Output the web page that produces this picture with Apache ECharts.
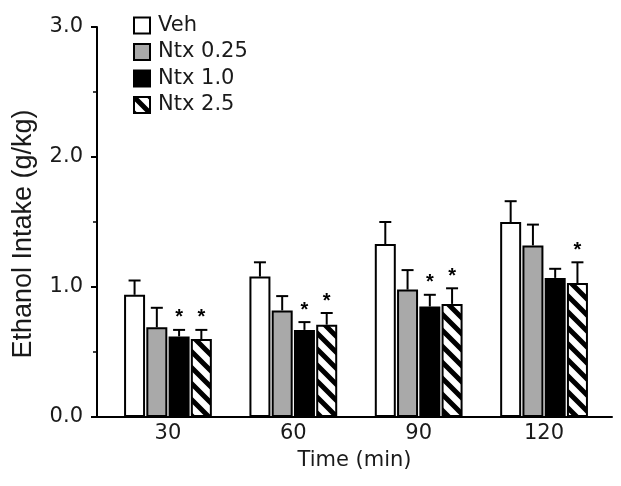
<!DOCTYPE html>
<html>
<head>
<meta charset="utf-8">
<script src="https://cdn.jsdelivr.net/npm/echarts@6/dist/echarts.min.js"></script>
<style>html,body{margin:0;padding:0;background:#fff}#c{width:621px;height:486px}</style>
</head>
<body>
<div id="c"></div>
<script>
// ---- data ----
const categories = ['30', '60', '90', '120'];
const seriesNames = ['Veh', 'Ntx 0.25', 'Ntx 1.0', 'Ntx 2.5'];
const veh      = [0.94, 1.08, 1.33, 1.50];
const vehErr   = [0.11, 0.11, 0.17, 0.16];
const ntx025   = [0.69, 0.82, 0.98, 1.32];
const ntx025Err= [0.15, 0.11, 0.15, 0.16];
const ntx10    = [0.62, 0.67, 0.85, 1.07];
const ntx10Err = [0.05, 0.06, 0.09, 0.07];
const ntx25    = [0.60, 0.71, 0.87, 1.03];
const ntx25Err = [0.07, 0.09, 0.12, 0.16];
const sigVeh   = [0, 0, 0, 0];
const sig025   = [0, 0, 0, 0];
const sig10    = [1, 1, 1, 0];
const sig25    = [1, 1, 1, 1];
const yTicks   = [0, 1, 2, 3];

const values = [veh, ntx025, ntx10, ntx25];
const errs = [vehErr, ntx025Err, ntx10Err, ntx25Err];
const sigs = [sigVeh, sig025, sig10, sig25];

// ---- styling ----
const FONT = 'DejaVu Sans';
const TITLE_FONT = 'Liberation Sans';
const TXT = '#1a1a1a';
const BAR_W = 21;
const BAR_GAP = 0.06;

function hatch() {
  const s = 16;
  const cv = document.createElement('canvas');
  cv.width = s; cv.height = s;
  const g = cv.getContext('2d');
  g.fillStyle = '#fff'; g.fillRect(0, 0, s, s);
  g.strokeStyle = '#000'; g.lineWidth = 5; g.lineCap = 'square';
  g.beginPath();
  g.moveTo(-s, -s); g.lineTo(2 * s, 2 * s);
  g.moveTo(-s, 0); g.lineTo(s, 2 * s);
  g.moveTo(0, -s); g.lineTo(2 * s, s);
  g.stroke();
  return cv;
}

const fills = ['#ffffff', '#a9a9a9', '#000000', { image: hatch(), repeat: 'repeat' }];

const series = [];
values.forEach((arr, i) => {
  series.push({
    name: seriesNames[i],
    type: 'bar',
    barWidth: BAR_W,
    barGap: (BAR_GAP * 100) + '%',
    data: arr.map((v, k) => [k, v]),
    itemStyle: { color: fills[i], borderColor: '#000', borderWidth: 2 },
    emphasis: { disabled: true },
    z: 2
  });
});
values.forEach((arr, i) => {
  const off = (i - 1.5) * BAR_W * (1 + BAR_GAP);
  series.push({
    type: 'custom',
    silent: true,
    z: 5,
    encode: { x: 0, y: 1 },
    data: arr.map((v, k) => [k, v, errs[i][k], sigs[i][k]]),
    renderItem: function (params, api) {
      const x = api.value(0), v = api.value(1), e = api.value(2), s = api.value(3);
      const p0 = api.coord([x, v]);
      const p1 = api.coord([x, v + e]);
      const cx = p0[0] + off;
      const st = { stroke: '#000', lineWidth: 2 };
      const ch = [
        { type: 'line', shape: { x1: cx, y1: p0[1], x2: cx, y2: p1[1] }, style: st },
        { type: 'line', shape: { x1: cx - 6, y1: p1[1], x2: cx + 6, y2: p1[1] }, style: st }
      ];
      if (s) {
        ch.push({ type: 'text', style: { text: '*', x: cx, y: p1[1] - 12, align: 'center', verticalAlign: 'middle',
          font: 'bold 20px "Liberation Sans"', fill: '#000' } });
      }
      return { type: 'group', children: ch };
    }
  });
});

const chart = echarts.init(document.getElementById('c'), null, { renderer: 'canvas' });
chart.setOption({
  animation: false,
  backgroundColor: '#fff',
  textStyle: { fontFamily: FONT },
  grid: { left: 97, right: 9, top: 27, bottom: 69, containLabel: false },
  legend: {
    orient: 'vertical', left: 128, top: 10,
    itemWidth: 16, itemHeight: 16, itemGap: 5.5,
    icon: 'rect',
    data: seriesNames,
    selectedMode: false,
    textStyle: { fontFamily: FONT, fontSize: 21, color: TXT, lineHeight: 21, padding: [0, 0, 0, 3] }
  },
  xAxis: {
    type: 'value',
    min: -0.566, max: 3.542,
    name: 'Time (min)', nameLocation: 'middle', nameGap: 33,
    nameTextStyle: { fontFamily: FONT, fontSize: 21, color: TXT },
    axisLine: { show: true, onZero: false, lineStyle: { color: '#000', width: 2 } },
    axisTick: { show: false },
    splitLine: { show: false },
    axisLabel: {
      customValues: [0, 1, 2, 3],
      formatter: v => categories[Math.round(v)] || '',
      fontFamily: FONT, fontSize: 21, color: TXT, margin: 6
    }
  },
  yAxis: {
    type: 'value', min: yTicks[0], max: yTicks[yTicks.length - 1], interval: 1,
    name: 'Ethanol Intake (g/kg)', nameLocation: 'middle', nameGap: 60,
    nameTextStyle: { fontFamily: TITLE_FONT, fontSize: 27, color: TXT, padding: [0, 24, 0, 0] },
    axisLine: { show: true, onZero: false, lineStyle: { color: '#000', width: 2 } },
    axisTick: { show: true, length: 6, lineStyle: { color: '#000', width: 2 } },
    minorTick: { show: true, splitNumber: 2, length: 4, lineStyle: { color: '#000', width: 1.5 } },
    splitLine: { show: false },
    axisLabel: { formatter: v => v.toFixed(1), fontFamily: FONT, fontSize: 21, color: TXT, margin: 14 }
  },
  series: series
});
</script>
</body>
</html>
